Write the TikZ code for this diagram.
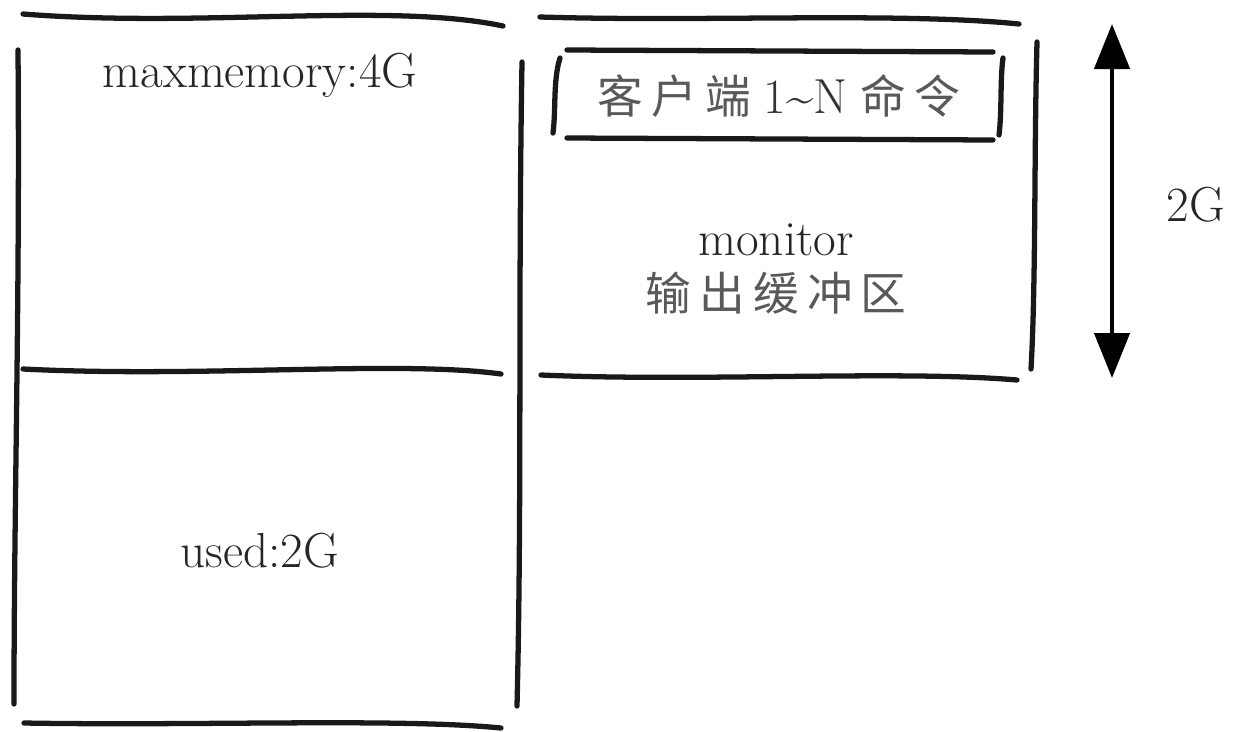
\documentclass[tikz,border=0pt]{standalone}
\usepackage{fontspec}
\newfontfamily\cjk[LetterSpace=18]{Noto Sans CJK SC}
\usetikzlibrary{arrows.meta}

\begin{document}
\begin{tikzpicture}[x=0.2mm, y=-0.2mm,
                    stroke/.style={line width=3pt, line cap=round, draw=black!90},
                    latin/.style={font=\fontsize{28}{32}\selectfont, text=black!85, inner sep=0pt},
                    hanzi/.style={font=\cjk\fontsize{26}{30}\selectfont, text=black!65, inner sep=0pt},
                    span/.style={{Triangle[length=9mm,width=7mm]}-{Triangle[length=9mm,width=7mm]}, line width=2.6pt, draw=black}
                ]
    \useasboundingbox (0,0) rectangle (1239,731);

    % memory block (left)
    \draw[stroke] (23,14) .. controls (200,28) and (390,2) .. (503,26);
    \draw[stroke] (18,50) .. controls (20,300) and (14,500) .. (14,704);
    \draw[stroke] (522,62) .. controls (518,300) and (522,500) .. (517,706);
    \draw[stroke] (23,369) .. controls (200,378) and (400,360) .. (501,374);
    \draw[stroke] (24,723) .. controls (200,726) and (400,718) .. (501,728);

    \node[latin] (maxmem) at (260,75) {maxmemory:4G};
    \node[latin] (used) at (260,551) {used:2G};

    % monitor buffer block (right)
    \draw[stroke] (540,17) .. controls (700,22) and (900,12) .. (1019,24);
    \draw[stroke] (567,50) -- (993,52);
    \draw[stroke] (567,138) -- (993,140);
    \draw[stroke] (560,58) .. controls (553,80) and (556,110) .. (553,133);
    \draw[stroke] (1003,58) .. controls (1000,80) and (1002,110) .. (999,135);
    \draw[stroke] (1037,42) .. controls (1034,150) and (1036,280) .. (1031,369);
    \draw[stroke] (541,375) .. controls (700,382) and (900,370) .. (1017,380);

    \node[hanzi] (cmds) at (779,96) {客户端\hspace{2.5mm}{\fontsize{28}{32}\selectfont\rmfamily\color{black!80}1\textasciitilde N}\hspace{2.5mm}命令};
    \node[latin] (monitor) at (776,240) {monitor};
    \node[hanzi] (outbuf) at (776,293) {输出缓冲区};

    % size marker
    \coordinate (hi) at (1112,24);
    \coordinate (lo) at (1112,378);
    \draw[span] (hi) -- (lo);
    \node[latin] (size) at (1196,205) {2G};

\end{tikzpicture}
\end{document}
